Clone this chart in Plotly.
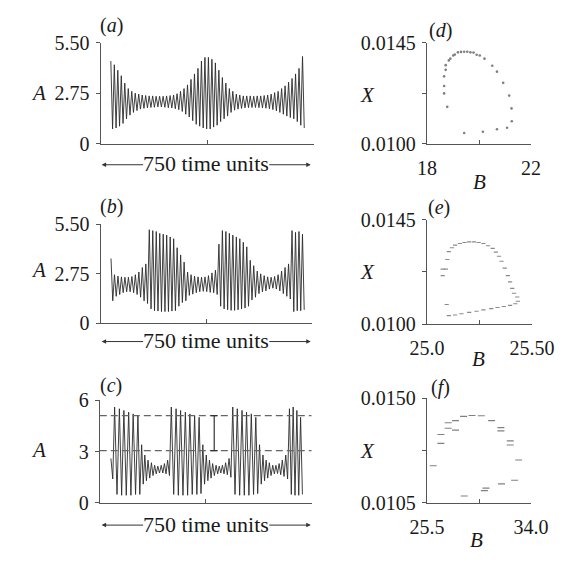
import numpy as np
import plotly.graph_objects as go

# ---------------- DATA ----------------
# Panels (a),(b): successive maxima / minima of A, one pair per oscillation
a_t0, a_period = 38.0, 13.1
a_peaks = [4.5, 4.3, 4.0, 3.7, 3.3, 3.0, 2.85, 2.75, 2.7, 2.65,
           2.62, 2.6, 2.6, 2.58, 2.58, 2.58, 2.6, 2.62, 2.65, 2.72,
           2.85, 3.0, 3.2, 3.5, 3.8, 4.1, 4.5, 4.7, 4.7, 4.6,
           4.4, 4.0, 3.6, 3.3, 3.0, 2.85, 2.7, 2.65, 2.6, 2.6,
           2.6, 2.58, 2.6, 2.6, 2.62, 2.65, 2.7, 2.78, 2.85, 3.0,
           3.15, 3.35, 3.55, 3.8, 4.1, 4.75]
a_troughs = [0.8, 0.85, 0.95, 1.1, 1.35, 1.55, 1.7, 1.8, 1.88, 1.92,
             1.95, 1.97, 1.98, 2.0, 2.0, 1.98, 1.96, 1.94, 1.9, 1.85,
             1.75, 1.6, 1.45, 1.25, 1.05, 0.95, 0.85, 0.8, 0.8, 0.9,
             1.0, 1.2, 1.35, 1.5, 1.7, 1.82, 1.88, 1.92, 1.95, 1.96,
             1.97, 1.97, 1.96, 1.95, 1.93, 1.9, 1.85, 1.78, 1.7, 1.6,
             1.5, 1.42, 1.35, 1.2, 1.0, 0.85]

b_t0, b_period = 39.0, 13.2
b_peaks = [3.6, 2.7, 2.62, 2.58, 2.56, 2.56, 2.6, 2.7, 2.85, 3.1,
           3.3, 5.2, 5.15, 5.1, 5.0, 4.95, 4.9, 4.8, 4.7, 4.2,
           3.8, 3.4, 2.85, 2.7, 2.62, 2.58, 2.56, 2.58, 2.65, 2.8,
           2.95, 4.4, 5.15, 5.1, 5.0, 4.9, 4.8, 4.7, 4.5, 4.25,
           3.5, 3.2, 2.9, 2.75, 2.65, 2.58, 2.56, 2.6, 2.7, 2.9,
           3.1, 3.3, 5.15, 5.05, 5.1, 4.95]
b_troughs = [1.25, 1.5, 1.6, 1.7, 1.75, 1.75, 1.7, 1.6, 1.45, 1.25,
             1.1, 0.8, 0.7, 0.68, 0.65, 0.65, 0.65, 0.68, 0.7, 0.95,
             1.15, 1.25, 1.55, 1.62, 1.7, 1.75, 1.78, 1.76, 1.72, 1.7,
             1.6, 0.95, 0.8, 0.75, 0.72, 0.72, 0.75, 0.8, 0.85, 0.95,
             1.3, 1.45, 1.65, 1.75, 1.8, 1.9, 1.95, 1.9, 1.8, 1.65,
             1.5, 1.35, 0.65, 0.7, 0.7, 0.75]

# Panel (c): time of each maximum, maxima and following minima
c_times = [42, 56, 74, 91, 109, 126, 144,
           158, 170, 182, 195, 207, 219, 232, 244, 256,
           270, 288, 305, 323, 340, 358, 375,
           389, 402, 414, 426, 439, 451, 463, 475, 488,
           502, 519, 537, 554, 572, 589,
           603, 616, 628, 640, 653, 665, 677, 689, 702,
           716, 730, 744, 758]
c_peaks = [2.6, 5.6, 5.5, 5.4, 5.3, 5.2, 5.1,
           3.4, 2.8, 2.5, 2.35, 2.2, 2.15, 2.2, 2.3, 2.5,
           5.6, 5.5, 5.4, 5.3, 5.2, 5.1, 5.0,
           3.4, 2.8, 2.5, 2.3, 2.2, 2.15, 2.2, 2.35, 2.6,
           5.6, 5.5, 5.4, 5.3, 5.2, 5.0,
           3.4, 2.8, 2.5, 2.35, 2.2, 2.2, 2.3, 2.5, 2.8,
           5.5, 5.6, 5.4, 5.0]
c_troughs = [1.4, 0.5, 0.45, 0.45, 0.45, 0.5, 0.5,
             1.1, 1.3, 1.45, 1.6, 1.7, 1.75, 1.75, 1.7, 1.6,
             0.5, 0.45, 0.45, 0.45, 0.5, 0.5, 0.55,
             1.1, 1.3, 1.45, 1.6, 1.7, 1.75, 1.7, 1.65, 1.5,
             0.5, 0.45, 0.45, 0.45, 0.5, 0.55,
             1.1, 1.3, 1.45, 1.6, 1.7, 1.72, 1.65, 1.55, 1.4,
             0.5, 0.45, 0.45, 0.5]
c_levels = [5.1, 3.05]
c_bar_time = 432

# Panels (d),(e),(f): section points (B, X)
d_B = [18.72, 18.84, 18.90, 19.01, 19.07, 19.19, 19.31, 19.43, 19.55, 19.67,
       19.79, 19.91, 20.03, 20.21, 20.51, 20.69, 20.93, 21.16, 21.25, 21.26,
       21.08, 20.69, 20.15, 19.43, 18.78, 18.66, 18.66, 18.66, 18.72]
d_X = [0.01350, 0.01371, 0.01379, 0.01393, 0.01397, 0.01407, 0.01409, 0.01410, 0.01410, 0.01407,
       0.01406, 0.01396, 0.01393, 0.01379, 0.01347, 0.01321, 0.01271, 0.01214, 0.01157, 0.01100,
       0.01071, 0.01064, 0.01053, 0.01047, 0.01164, 0.01224, 0.01257, 0.01300, 0.01329]

e_B = [25.090, 25.097, 25.104, 25.119, 25.134, 25.157, 25.179, 25.201, 25.224, 25.246,
       25.269, 25.291, 25.313, 25.328, 25.343, 25.355, 25.370, 25.385, 25.396, 25.406,
       25.415, 25.430, 25.433, 25.421, 25.396, 25.366, 25.336, 25.306, 25.269, 25.236,
       25.201, 25.164, 25.134, 25.104, 25.094, 25.075, 25.075]
e_X = [0.01237, 0.01278, 0.01312, 0.01329, 0.01340, 0.01347, 0.01351, 0.01354, 0.01354, 0.01351,
       0.01347, 0.01337, 0.01326, 0.01310, 0.01292, 0.01271, 0.01241, 0.01209, 0.01182, 0.01154,
       0.01133, 0.01117, 0.01099, 0.01088, 0.01081, 0.01076, 0.01072, 0.01067, 0.01062, 0.01056,
       0.01051, 0.01045, 0.01040, 0.01037, 0.01085, 0.01209, 0.01237]

f_B = [26.01, 26.64, 26.64, 27.23, 27.23, 27.83, 27.83, 28.49, 29.18, 29.94,
       30.78, 31.54, 31.54, 32.30, 32.30, 32.99, 32.66, 31.59, 30.32, 30.19, 28.54]
f_X = [0.01210, 0.01306, 0.01344, 0.01371, 0.01395, 0.01363, 0.01404, 0.01422, 0.01426, 0.01425,
       0.01404, 0.01374, 0.01360, 0.01317, 0.01299, 0.01235, 0.01148, 0.01132, 0.01114, 0.01103, 0.01080]

# ---------------- LAYOUT HELPERS ----------------
W, H = 581, 563
FONT = "Liberation Serif, Times New Roman, serif"
INK = "#1a1a1a"
AX = "#555555"


def px_x(p):
    return p / W


def px_y(p):
    return 1 - p / H


def zigzag(times, peaks, troughs):
    times = np.asarray(times, float)
    gaps = np.diff(times)
    gaps = np.append(gaps, gaps[-1])
    t = np.empty(2 * len(times))
    y = np.empty(2 * len(times))
    t[0::2] = times
    t[1::2] = times + gaps / 2
    y[0::2] = peaks
    y[1::2] = troughs
    return t, y


fig = go.Figure()

a_times = a_t0 + a_period * np.arange(len(a_peaks))
b_times = b_t0 + b_period * np.arange(len(b_peaks))

for n, (tt, pk, tr) in zip([1, 2, 3], [(a_times, a_peaks, a_troughs),
                                        (b_times, b_peaks, b_troughs),
                                        (c_times, c_peaks, c_troughs)]):
    t, y = zigzag(tt, pk, tr)
    fig.add_trace(go.Scatter(x=t, y=y, mode="lines",
                             line=dict(color="#2b2b2b", width=0.9),
                             xaxis=f"x{n}", yaxis=f"y{n}", showlegend=False))

# dashed levels and bar in (c)
for lv in c_levels:
    fig.add_trace(go.Scatter(x=[0, 800], y=[lv, lv], mode="lines",
                             line=dict(color="#666", width=1.2, dash="7px,4px"),
                             xaxis="x3", yaxis="y3", showlegend=False))
fig.add_trace(go.Scatter(x=[c_bar_time, c_bar_time], y=c_levels, mode="lines+markers",
                         line=dict(color="#333", width=1.2),
                         marker=dict(symbol="line-ew", size=5, line=dict(width=1.2, color="#333")),
                         xaxis="x3", yaxis="y3", showlegend=False))

fig.add_trace(go.Scatter(x=d_B, y=d_X, mode="markers",
                         marker=dict(symbol="circle", size=2.6, color="#808080"),
                         xaxis="x4", yaxis="y4", showlegend=False))
fig.add_trace(go.Scatter(x=e_B, y=e_X, mode="markers",
                         marker=dict(symbol="line-ew", size=3, line=dict(width=1.1, color="#8a8a8a")),
                         xaxis="x5", yaxis="y5", showlegend=False))
fig.add_trace(go.Scatter(x=f_B, y=f_X, mode="markers",
                         marker=dict(symbol="line-ew", size=5, line=dict(width=1.1, color="#808080")),
                         xaxis="x6", yaxis="y6", showlegend=False))

boxes = {1: (89, 318, 33, 138), 2: (89, 316, 222, 325), 3: (88, 316, 405, 512),
         4: (440, 552, 33, 138), 5: (440, 553, 217, 326), 6: (440, 552, 403, 512)}

tickfont = dict(family=FONT, size=20, color=INK)
base = dict(showline=True, linecolor=AX, linewidth=1.2, showgrid=False, zeroline=False,
            ticklen=4, tickcolor=AX, tickwidth=1.2, tickfont=tickfont, fixedrange=True)

xcfg = {
    1: dict(range=[0, 800], tickvals=[0, 400, 800], showticklabels=False),
    2: dict(range=[0, 800], tickvals=[0, 400, 800], showticklabels=False),
    3: dict(range=[0, 800], tickvals=[0, 400, 800], showticklabels=False),
    4: dict(range=[18, 22], tickvals=[18, 20, 22], ticktext=["18", "", "22"]),
    5: dict(range=[25.0, 25.5], tickvals=[25.0, 25.25, 25.5], ticktext=["25.0", "", "25.50"]),
    6: dict(range=[25.5, 34.0], tickvals=[25.5, 29.75, 34.0], ticktext=["25.5", "", "34.0"]),
}
ycfg = {
    1: dict(range=[0, 5.5], tickvals=[0, 2.75, 5.5], ticktext=["0", "2.75", "5.50"]),
    2: dict(range=[0, 5.5], tickvals=[0, 2.75, 5.5], ticktext=["0", "2.75", "5.50"]),
    3: dict(range=[0, 6], tickvals=[0, 3, 6], ticktext=["0", "3", "6"]),
    4: dict(range=[0.0100, 0.0145], tickvals=[0.0100, 0.01225, 0.0145], ticktext=["0.0100", "", "0.0145"]),
    5: dict(range=[0.0100, 0.0145], tickvals=[0.0100, 0.01225, 0.0145], ticktext=["0.0100", "", "0.0145"]),
    6: dict(range=[0.0105, 0.0150], tickvals=[0.0105, 0.01275, 0.0150], ticktext=["0.0105", "", "0.0150"]),
}

layout = dict(width=W, height=H, margin=dict(l=0, r=0, t=0, b=0),
              paper_bgcolor="white", plot_bgcolor="white", showlegend=False)
for n, (x0, x1, y0, y1) in boxes.items():
    layout[f"xaxis{n}"] = dict(base, domain=[px_x(x0), px_x(x1)], anchor=f"y{n}",
                               ticks="inside", ticklabelstandoff=6, **xcfg[n])
    layout[f"yaxis{n}"] = dict(base, domain=[px_y(y1), px_y(y0)], anchor=f"x{n}",
                               ticks="outside", ticklabelstandoff=2, **ycfg[n])
fig.update_layout(**layout)

ann = []


def txt(x, y, s, size=20):
    ann.append(dict(x=px_x(x), y=px_y(y), xref="paper", yref="paper", text=s, showarrow=False,
                    xanchor="center", yanchor="middle", font=dict(family=FONT, size=size, color=INK)))


for lbl, (x, y) in zip("abcdef", [(101, 15), (101, 203), (100, 390), (455, 20), (453, 205), (455, 392)]):
    txt(x, y, f"(<i>{lbl}</i>)", 20)
for y in [85, 270, 457]:
    txt(22, y, "<i>A</i>", 21)
for y in [87, 272, 458]:
    txt(376, y, "<i>X</i>", 21)
for x, y in [(497, 178), (496, 362), (493, 550)]:
    txt(x, y, "<i>B</i>", 21)
for y in [159, 343, 534]:
    txt(202, y, "750 time units", 22)
    for head, dx in [(90, 43), (315, -43)]:
        ann.append(dict(x=px_x(head), y=px_y(y + 1), xref="paper", yref="paper", text="",
                        showarrow=True, ax=dx, ay=0, arrowhead=2, arrowsize=0.9,
                        arrowwidth=1, arrowcolor="#333"))
fig.update_layout(annotations=ann)

fig.write_html("out.html", config={"displayModeBar": False},
               post_script="document.body.style.margin='0px';")
